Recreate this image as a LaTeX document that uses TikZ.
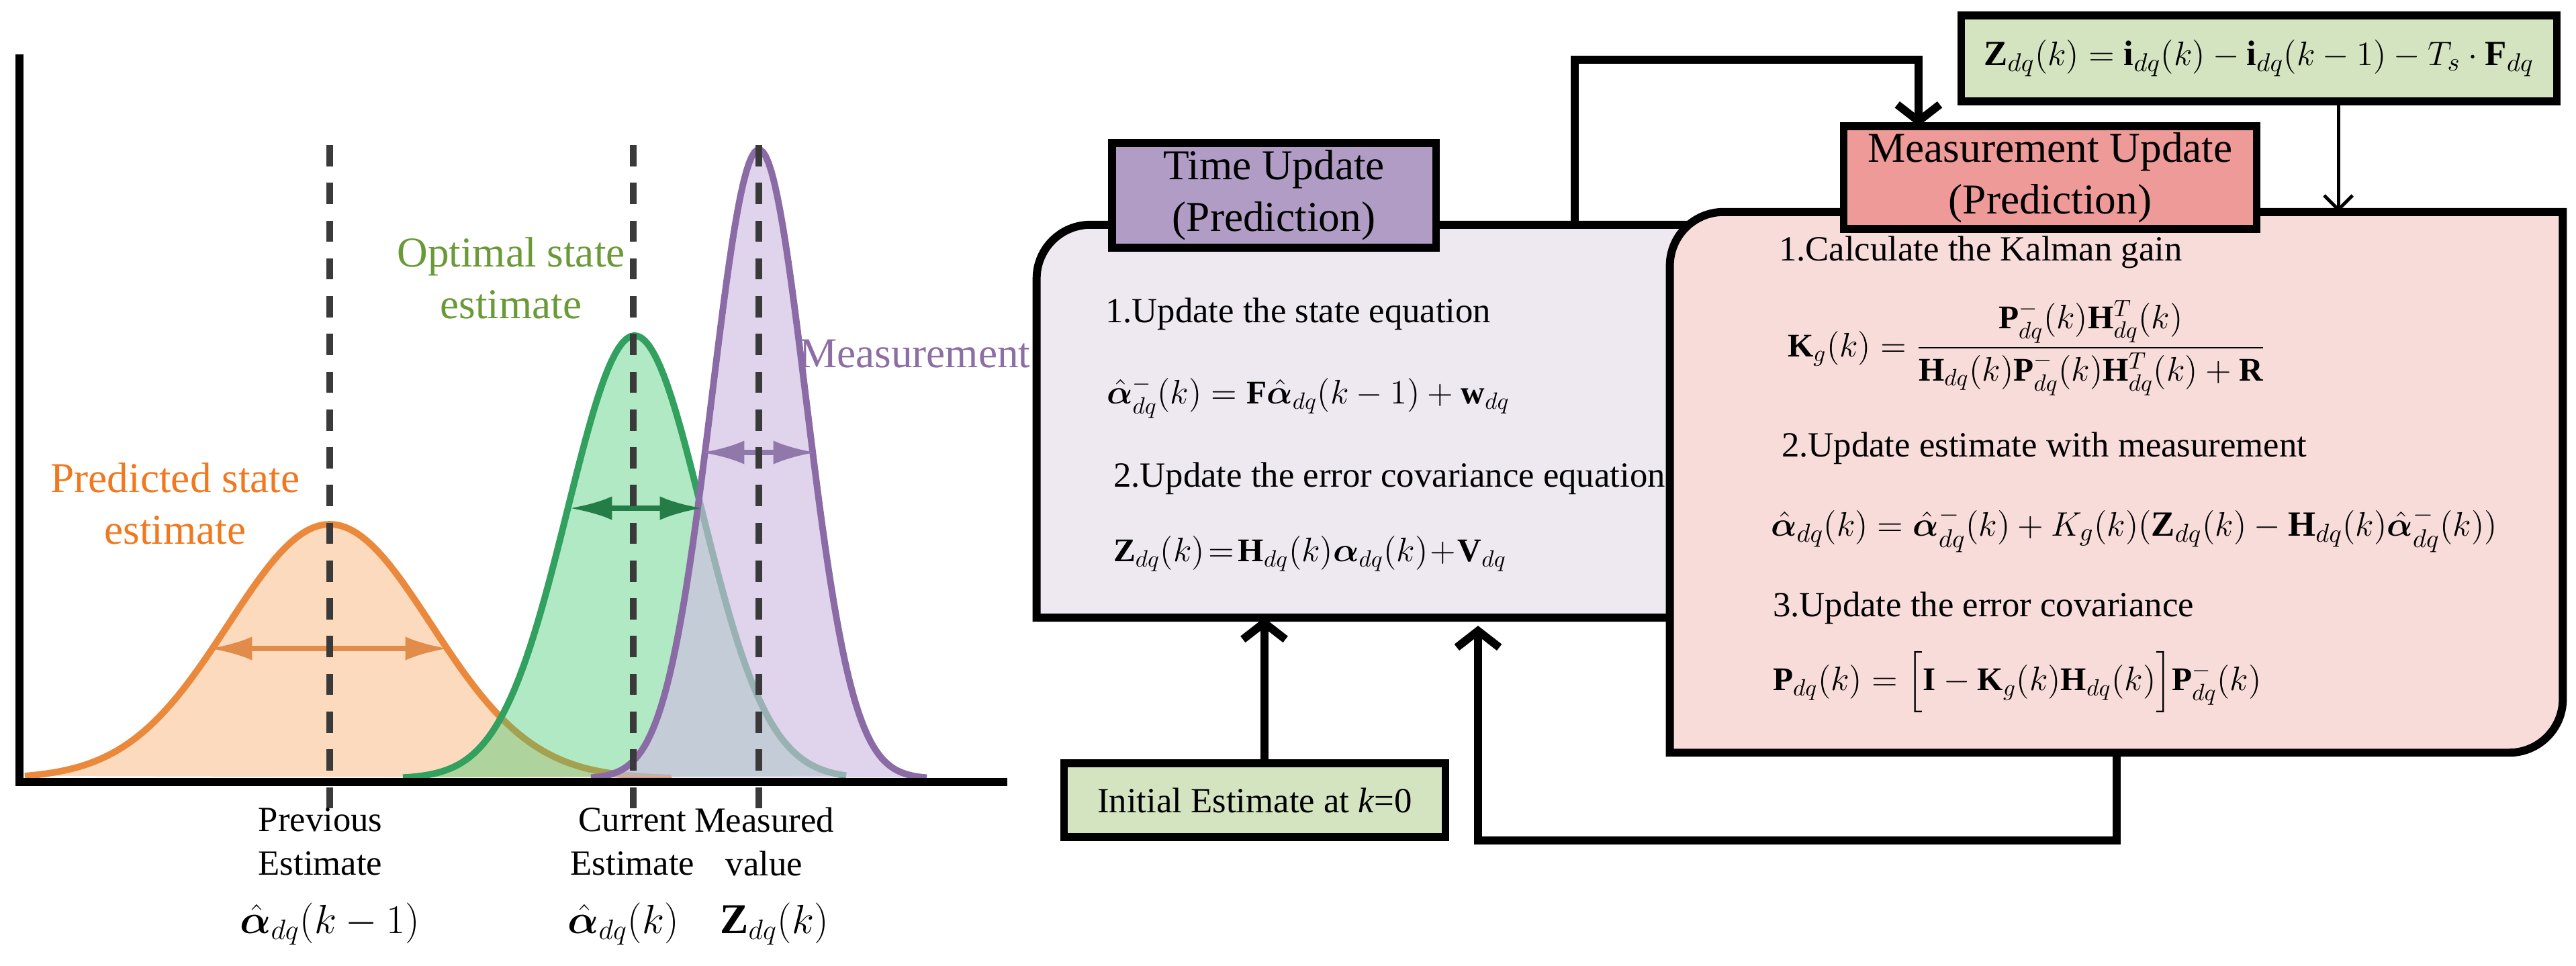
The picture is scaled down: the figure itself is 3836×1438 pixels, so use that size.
\documentclass[tikz,border=0pt]{standalone}
\usepackage{amsmath,bm}
\usepackage{fontspec}
\setmainfont{Liberation Serif}
\usetikzlibrary{arrows.meta,positioning,calc}

\definecolor{orline}{RGB}{234,137,60}
\definecolor{orfill}{RGB}{245,140,50}
\definecolor{ortext}{RGB}{240,120,30}
\definecolor{orarrow}{RGB}{225,140,75}
\definecolor{grline}{RGB}{50,160,95}
\definecolor{grfill}{RGB}{60,200,110}
\definecolor{grtext}{RGB}{106,153,56}
\definecolor{grarrow}{RGB}{36,125,70}
\definecolor{puline}{RGB}{139,107,165}
\definecolor{pufill}{RGB}{208,188,226}
\definecolor{putext}{RGB}{140,110,165}
\definecolor{puarrow}{RGB}{145,120,170}
\definecolor{dashgray}{RGB}{58,58,58}
\definecolor{tufill}{RGB}{238,233,241}
\definecolor{tutitle}{RGB}{176,156,196}
\definecolor{mufill}{RGB}{248,220,218}
\definecolor{mutitle}{RGB}{238,154,152}
\definecolor{greenbox}{RGB}{213,228,192}

\begin{document}
\begin{tikzpicture}[x=0.01cm, y=-0.01cm,
    every node/.style={inner sep=0pt, outer sep=0pt},
    axis/.style={line width=3.2pt},
    curve/.style={line width=2.8pt, line join=round},
    mean/.style={dashgray, line width=3.1pt, dash pattern=on 9pt off 7pt},
    spread/.style={line width=2.2pt, {Latex[length=18pt,width=10pt]}-{Latex[length=18pt,width=10pt]}},
    label/.style={align=center, font=\fontsize{18}{21.8}\selectfont},
    tick/.style={align=center, font=\fontsize{15}{18.5}\selectfont},
    boxline/.style={line width=3.4pt},
    panel/.style={rectangle},
    title/.style={draw, line width=3.2pt, align=center, font=\fontsize{18}{21.8}\selectfont},
    itemtxt/.style={anchor=west, font=\fontsize{15}{18}\selectfont},
    eqn/.style={anchor=west, font=\fontsize{15}{18}\selectfont},
    small eqn/.style={anchor=west, font=\fontsize{14}{17}\selectfont},
    tight/.style={execute at begin node={\thickmuskip=2mu\medmuskip=1mu}},
    flow/.style={line width=3.4pt, -{Straight Barb[length=7pt,width=18pt]}},
    feed/.style={line width=1.4pt, -{Straight Barb[length=6pt,width=12pt]}}]

    \useasboundingbox (0,0) rectangle (3836,1438);

    % Gaussians
    \foreach \mean/\sig/\amp/\xa/\xb/\lc/\fc/\op in {491/151/379/37/1000/orline/orfill/0.32,
        945/100/660/600/1260/grline/grfill/0.4, 1130/70/937/880/1380/puline/pufill/0.65} {
        \fill[\fc, opacity=\op] plot[domain=\xa:\xb, samples=120]
            (\x,{1160-\amp*exp(-0.5*((\x-\mean)/\sig)*((\x-\mean)/\sig))}) -- cycle;
        \draw[\lc, curve] plot[domain=\xa:\xb, samples=120]
            (\x,{1160-\amp*exp(-0.5*((\x-\mean)/\sig)*((\x-\mean)/\sig))});
    }

    % spread arrows
    \coordinate (oL) at (312,966);
    \coordinate (oR) at (667,966);
    \coordinate (gL) at (848,757);
    \coordinate (gR) at (1046,757);
    \coordinate (pL) at (1045,674);
    \coordinate (pR) at (1215,674);
    \draw[spread, orarrow] (oL) -- (oR);
    \draw[spread, grarrow] (gL) -- (gR);
    \draw[spread, puarrow] (pL) -- (pR);

    % mean lines
    \foreach \xm in {491,943,1130} {
        \draw[mean] (\xm,216) -- (\xm,1206);
    }

    % axes
    \draw[axis] (29,81) |- (1500,1165);

    % plot labels
    \node[label, ortext] (pred) at (261,750) {Predicted state\\estimate};
    \node[label, grtext] (opt) at (761,414) {Optimal state\\estimate};
    \node[label, putext, anchor=west] (meas) at (1190,527) {Measurement};
    \node[tick] (prev) at (477,1254) {Previous\\Estimate};
    \node[tick] (curr) at (942,1254) {Current\\Estimate};
    \node[tick] (mval) at (1138,1254) {Measured\\value};
    \node[font=\fontsize{18}{22}\selectfont] (xprev) at (491,1376) {$\hat{\bm{\alpha}}_{dq}(k-1)$};
    \node[font=\fontsize{18}{22}\selectfont] (xcurr) at (928,1376) {$\hat{\bm{\alpha}}_{dq}(k)$};
    \node[font=\fontsize{18}{22}\selectfont] (xmeas) at (1153,1376) {$\mathbf{Z}_{dq}(k)$};

    % Nodes
    \node[panel, minimum width=11.56cm, minimum height=5.85cm] (TU) at (2122,627.5) {};
    \node[panel, minimum width=13.29cm, minimum height=8.05cm] (MU) at (3151.5,718.5) {};

    \draw[boxline, fill=tufill] (TU.south west) -- ([yshift=-0.8cm]TU.north west)
        arc[start angle=180, end angle=90, radius=0.8cm] -- (TU.north east)
        -- ([yshift=0.8cm]TU.south east) arc[start angle=0, end angle=-90, radius=0.8cm] -- cycle;
    \node[title, fill=tutitle, minimum width=4.82cm, minimum height=1.56cm] (TUt) at (1897,291) {Time Update\\(Prediction)};

    \node[itemtxt] (tu1) at (1646,468) {1.Update the state equation};
    \node[small eqn] (tu2) at (1648,592) {$\hat{\bm{\alpha}}_{dq}^{-}(k)=\mathbf{F}\hat{\bm{\alpha}}_{dq}(k-1)+\mathbf{w}_{dq}$};
    \node[itemtxt] (tu3) at (1658,713) {2.Update the error covariance equation};
    \node[small eqn, tight] (tu4) at (1658,825) {$\mathbf{Z}_{dq}(k)=\mathbf{H}_{dq}(k)\bm{\alpha}_{dq}(k)+\mathbf{V}_{dq}$};

    \draw[boxline, fill=mufill] (MU.south west) -- ([yshift=-0.8cm]MU.north west)
        arc[start angle=180, end angle=90, radius=0.8cm] -- (MU.north east)
        -- ([yshift=0.8cm]MU.south east) arc[start angle=0, end angle=-90, radius=0.8cm] -- cycle;
    \node[title, fill=mutitle, minimum width=6.14cm, minimum height=1.53cm] (MUt) at (3053,264.5) {Measurement Update\\(Prediction)};

    \node[itemtxt] (mu1) at (2649,376) {1.Calculate the Kalman gain};
    \node[small eqn] (mu2) at (2662,518) {$\mathbf{K}_g(k)=\dfrac{\mathbf{P}_{dq}^{-}(k)\mathbf{H}_{dq}^{T}(k)}{\mathbf{H}_{dq}(k)\mathbf{P}_{dq}^{-}(k)\mathbf{H}_{dq}^{T}(k)+\mathbf{R}}$};
    \node[itemtxt] (mu3) at (2653,668) {2.Update estimate with measurement};
    \node[eqn] (mu4) at (2637,789) {$\hat{\bm{\alpha}}_{dq}(k)=\hat{\bm{\alpha}}_{dq}^{-}(k)+K_g(k)(\mathbf{Z}_{dq}(k)-\mathbf{H}_{dq}(k)\hat{\bm{\alpha}}_{dq}^{-}(k))$};
    \node[itemtxt] (mu5) at (2640,906) {3.Update the error covariance};
    \node[small eqn] (mu6) at (2640,1016) {$\mathbf{P}_{dq}(k)=\Big[\mathbf{I}-\mathbf{K}_g(k)\mathbf{H}_{dq}(k)\Big]\mathbf{P}_{dq}^{-}(k)$};

    \node[title, fill=greenbox, minimum width=8.86cm, minimum height=1.28cm, font=\fontsize{15}{18}\selectfont] (Zbox) at (3364,87)
        {$\mathbf{Z}_{dq}(k)=\mathbf{i}_{dq}(k)-\mathbf{i}_{dq}(k-1)-T_s\cdot\mathbf{F}_{dq}$};
    \node[title, fill=greenbox, minimum width=5.67cm, minimum height=1.10cm, font=\fontsize{15}{18}\selectfont] (Init) at (1868.5,1192)
        {Initial Estimate at \textit{k}=0};

    % Edges
    \coordinate (loopT) at (2345,89);
    \coordinate (loopB) at (2201,1252);
    \draw[flow] ([xshift=0.14cm]Init.north) -- ([xshift=0.14cm]Init.north |- TU.south);
    \draw[flow] (MU.south) |- (loopB) -- ([yshift=-0.12cm]loopB |- TU.south);
    \draw[flow] (loopT |- TU.north) -- (loopT) -| ([xshift=-1.96cm]MUt.north);
    \draw[feed] ([xshift=1.18cm]Zbox.south) -- ([xshift=1.18cm]Zbox.south |- MU.north);
\end{tikzpicture}
\end{document}
